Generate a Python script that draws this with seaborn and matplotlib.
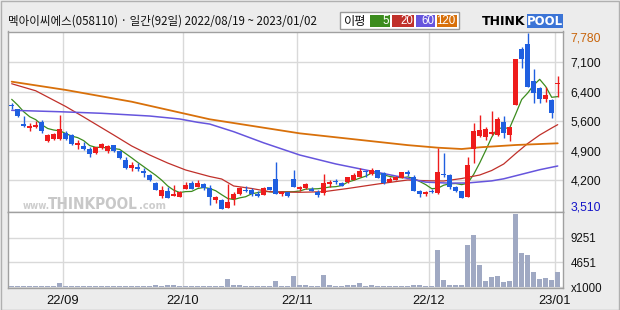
import numpy as np
import pandas as pd
import matplotlib
matplotlib.use("Agg")
import matplotlib.pyplot as plt
from matplotlib.patches import Rectangle
import seaborn as sns

# ---------------- data ----------------
title = "멕아이씨에스(058110) · 일간(92일) 2022/08/19 ~ 2023/01/02"
month_labels = ["22/09", "22/10", "22/11", "22/12", "23/01"]
month_start_idx = [9, 29, 48, 70, 91]

open_ = [6020, 5931, 5576, 5479, 5496, 5624, 5172, 5206, 5206, 5358,
         5303, 5075, 5044, 4964, 4867, 4988, 4915, 5061, 4915, 4705,
         4519, 4536, 4439, 4349, 4149, 3834, 3948, 3841, 3817, 4003,
         4156, 4052, 4124, 4020, 3745, 3730, 3551, 3754, 3883, 3987,
         3987, 3883, 3866, 4052, 4238, 3883, 3931, 4238, 4003, 4020,
         4011, 3931, 3899, 4117, 4204, 4141, 4180, 4221, 4301, 4446,
         4366, 4463, 4398, 4173, 4221, 4277, 4407, 4294, 3962, 3883,
         3938, 3914, 4374, 4342, 4059, 3955, 3817, 4964, 5286, 5261,
         5334, 5310, 5617, 5310, 6043, 7390, 7511, 6616, 6454, 6188,
         6156, 6540]
high = [6080, 5950, 5769, 5600, 5648, 5665, 5330, 5360, 5794, 5399,
        5330, 5189, 5148, 5027, 5030, 5123, 5060, 5070, 4930, 4770,
        4657, 4625, 4504, 4360, 4180, 4076, 4059, 4108, 3950, 4180,
        4190, 4214, 4140, 4100, 3830, 3769, 4132, 3938, 4052, 4083,
        4035, 3948, 4059, 4060, 4649, 3962, 3940, 4463, 4083, 4156,
        4059, 3979, 4366, 4214, 4238, 4166, 4301, 4398, 4511, 4450,
        4511, 4470, 4405, 4294, 4310, 4420, 4463, 4349, 3979, 3962,
        4000, 5003, 4882, 4366, 4070, 3960, 4785, 5593, 5794, 5511,
        5890, 5745, 5769, 5510, 7160, 7431, 7780, 6906, 6470, 6464,
        6170, 6737]
low = [5940, 5738, 5496, 5414, 5480, 5365, 5148, 5190, 5190, 5200,
       5080, 4964, 4947, 4770, 4850, 4970, 4867, 4900, 4730, 4490,
       4432, 4446, 4287, 4200, 3970, 3786, 3780, 3841, 3810, 4000,
       3996, 4040, 3972, 3624, 3672, 3510, 3540, 3624, 3870, 3924,
       3834, 3803, 3860, 3970, 3880, 3834, 3817, 4040, 3962, 3996,
       3950, 3817, 3858, 4059, 4124, 4070, 4141, 4210, 4290, 4301,
       4350, 4260, 4124, 4165, 4210, 4270, 4318, 3950, 3803, 3834,
       3907, 3875, 4300, 3996, 3940, 3780, 3810, 4640, 5261, 5189,
       5310, 5290, 5230, 5172, 6030, 6938, 6460, 6091, 6091, 6115,
       5714, 6236]
close = [6010, 5777, 5527, 5535, 5559, 5399, 5317, 5341, 5448, 5220,
         5099, 5123, 4978, 4850, 5012, 5092, 5044, 4915, 4746, 4504,
         4577, 4495, 4398, 4221, 3987, 3987, 3793, 3890, 3938, 4093,
         4011, 4141, 4020, 3817, 3817, 3530, 3689, 3890, 4020, 3955,
         3883, 3834, 4035, 3979, 3890, 3938, 3834, 4052, 4059, 4124,
         3955, 3858, 4141, 4180, 4166, 4083, 4286, 4349, 4446, 4407,
         4463, 4270, 4141, 4253, 4301, 4415, 4366, 3962, 3883, 3924,
         3924, 4407, 4340, 4052, 3955, 3793, 4584, 5407, 5431, 5467,
         5390, 5697, 5365, 5503, 7141, 7141, 6478, 6333, 6188, 6277,
         5835, 6560]
volume = [220, 220, 220, 220, 220, 220, 220, 220, 840, 220,
          220, 220, 220, 220, 220, 220, 220, 220, 220, 220,
          220, 220, 220, 220, 410, 220, 410, 410, 220, 220,
          220, 220, 220, 220, 220, 220, 1530, 410, 410, 220,
          220, 220, 220, 220, 1160, 220, 220, 2090, 410, 410,
          300, 220, 2280, 410, 220, 220, 410, 410, 840, 220,
          410, 220, 220, 220, 220, 220, 220, 410, 410, 220,
          220, 6960, 1350, 410, 410, 410, 7950, 9760, 4150, 1160,
          1960, 2090, 1030, 1220, 13690, 6450, 6080, 2900, 1530, 1780,
          1350, 2900]

ma5_head = [6173, 6035, 5873, 5752]
ma20_idx = [0, 4, 9, 12, 17, 20, 23, 26, 29, 33, 35, 37, 40, 43, 48, 52, 56,
            61, 66, 69, 72, 75, 78, 80, 82, 84, 86, 88, 90, 91]
ma20_val = [6550, 6380, 6000, 5745, 5310, 5044, 4826, 4632, 4463, 4306, 4245,
            4076, 4016, 3938, 3924, 3938, 4016, 4124, 4221, 4204, 4197, 4257,
            4342, 4451, 4608, 4862, 5104, 5310, 5479, 5560]
ma60_idx = [0, 8, 15, 23, 28, 31, 33, 37, 42, 48, 54, 59, 65, 69, 73, 76, 80,
            82, 85, 88, 91]
ma60_val = [5907, 5873, 5835, 5769, 5697, 5617, 5575, 5390, 5120, 4826, 4610,
            4463, 4290, 4170, 4145, 4150, 4200, 4250, 4360, 4470, 4560]
ma120_idx = [0, 9, 20, 33, 48, 66, 71, 75, 78, 84, 91]
ma120_val = [6600, 6400, 6115, 5690, 5350, 5065, 5003, 4971, 5012, 5068, 5109]

price_min, price_max = 3510, 7780
price_tick_labels = ["4,200", "4,900", "5,600", "6,400", "7,100"]
vol_ticks = [0, 4651, 9251]
vol_tick_labels = ["x1000", "4651", "9251"]
legend_title = "이평"
legend_labels = ["5", "20", "60", "120"]

# ---------------- style ----------------
sns.set_style("white")
plt.rcParams["font.family"] = ["Noto Sans CJK KR", "DejaVu Sans"]
NUM_FONT = ["Liberation Sans", "DejaVu Sans"]

UP = "#ee1c1c"
DOWN = "#1f5fe0"
MA_COLORS = ["#3c8c1e", "#c0302a", "#6655dd", "#d8700a"]
VOL_COLOR = "#a0a9c3"
GRID = "#d9d9d9"
SPINE = "#a0a0a0"

W, H = 620, 310
fig = plt.figure(figsize=(W / 100, H / 100), dpi=100, facecolor="#ececec")


def fx(px):
    return px / W


def fy(py):
    return 1 - py / H


x_left, x_right = 7.5, 563
ax = fig.add_axes([fx(x_left), fy(212), fx(x_right) - fx(x_left), (212 - 31.5) / H])
axv = fig.add_axes([fx(x_left), fy(288), fx(x_right) - fx(x_left), (288 - 212) / H])

n = len(close)
idx = np.arange(n)
df = pd.DataFrame({"i": idx, "open": open_, "high": high, "low": low,
                   "close": close, "volume": volume})
df["up"] = df["close"] >= df["open"]
df["color"] = np.where(df["up"], UP, DOWN)

# moving averages
ma5 = df["close"].rolling(5).mean().to_numpy()
ma5[:4] = ma5_head
lines = [
    (idx, ma5, MA_COLORS[0], 0.9),
    (np.array(ma20_idx), np.array(ma20_val), MA_COLORS[1], 0.9),
    (np.array(ma60_idx), np.array(ma60_val), MA_COLORS[2], 1.1),
    (np.array(ma120_idx), np.array(ma120_val), MA_COLORS[3], 1.3),
]
for xs, ys, c, lw in lines:
    sns.lineplot(x=xs, y=ys, ax=ax, color=c, linewidth=lw, zorder=2)

# candles
ax.vlines(df["i"], df["low"], df["high"], colors=df["color"], linewidth=1.0, zorder=3)
body_bottom = np.minimum(df["open"], df["close"])
body_h = np.maximum(np.abs(df["close"] - df["open"]), 28)
ax.bar(df["i"], body_h, bottom=body_bottom, width=0.8, color=df["color"],
       linewidth=0, zorder=4)

# volume
sns.barplot(data=df, x="i", y="volume", ax=axv, color=VOL_COLOR, saturation=1,
            width=0.8, linewidth=0, zorder=3)

# axes limits
xlim = ((x_left - 11.7) / 6, (x_right - 11.7) / 6)
ppx = (price_max - price_min) / (209.4 - 32.9)
ax.set_xlim(*xlim)
ax.set_ylim(price_min - (212 - 209.4) * ppx, price_max + (32.9 - 31.5) * ppx)
axv.set_xlim(*xlim)
axv.set_ylim(-155, 14057)

grid_x = [m - 0.5 for m in month_start_idx]
price_ticks = np.linspace(price_min, price_max, 7)[1:-1]

for a in (ax, axv):
    a.set_facecolor("white")
    a.set_xticks(grid_x)
    a.grid(True, color=GRID, linewidth=1.0, zorder=0)
    a.set_axisbelow(True)
    for s in a.spines.values():
        s.set_color(SPINE)
        s.set_linewidth(1.0)
    a.set_xlabel("")
    a.set_ylabel("")

ax.set_xticklabels([])
ax.tick_params(axis="x", length=0)
ax.yaxis.tick_right()
ax.set_yticks(price_ticks)
ax.set_yticklabels(price_tick_labels, family=NUM_FONT)
ax.tick_params(axis="y", length=0, pad=5.5, labelsize=8.8, colors="#111111")

axv.set_xticklabels(month_labels, family=NUM_FONT)
axv.tick_params(axis="x", length=0, pad=5, labelsize=9.3, colors="#111111")
axv.yaxis.tick_right()
axv.set_yticks(vol_ticks)
axv.set_yticklabels(vol_tick_labels, family=NUM_FONT)
axv.tick_params(axis="y", length=0, pad=5.5, labelsize=8.3, colors="#111111")

# extreme price labels
fig.text(fx(570.5), fy(38.3), f"{price_max:,}", color="#c8640a", fontsize=8.8,
         va="center", ha="left", family=NUM_FONT)
fig.text(fx(570.5), fy(207.3), f"{price_min:,}", color="#1414c8", fontsize=8.8,
         va="center", ha="left", family=NUM_FONT)

# watermark
fig.text(fx(22.7), fy(209), "www.", color="#cdcdcd", fontsize=7, va="baseline",
         ha="left", fontweight="bold", family=["DejaVu Sans"], fontstretch="condensed")
fig.text(fx(48.3), fy(209), "THINKPOOL", color="#c8c8c8", fontsize=11,
         va="baseline", ha="left", fontweight="bold", family=["DejaVu Sans"],
         fontstretch="condensed")
fig.text(fx(138.5), fy(209), ".com", color="#cdcdcd", fontsize=8, va="baseline",
         ha="left", fontweight="bold", family=["DejaVu Sans"], fontstretch="condensed")

# title
fig.text(fx(7.5), fy(21.5), title, fontsize=8.3, va="center", ha="left", color="#111111")

# MA legend
fig.patches.append(Rectangle((fx(340), fy(29.3)), fx(459) - fx(340), (29.3 - 12.3) / H,
                             transform=fig.transFigure, facecolor="white",
                             edgecolor="#9a9a9a", linewidth=1.0))
fig.text(fx(355.5), fy(21), legend_title, fontsize=8.8, va="center", ha="center", color="#111111")
boxes = [(370, 390), (391.7, 414.3), (416, 435), (436.7, 456.7)]
for (x0, x1), lab, c in zip(boxes, legend_labels, MA_COLORS):
    fig.patches.append(Rectangle((fx(x0), fy(26.7)), fx(x1) - fx(x0), (26.7 - 15) / H,
                                 transform=fig.transFigure, facecolor=c, edgecolor="none"))
    fig.text(fx(x1 - 0.8), fy(21), lab, fontsize=8.3, va="center", ha="right", color="white",
             family=NUM_FONT)

# ThinkPool logo
fig.patches.append(Rectangle((fx(526.7), fy(28.3)), fx(563.3) - fx(526.7), (28.3 - 14) / H,
                             transform=fig.transFigure, facecolor="#3b74d6", edgecolor="none"))
fig.text(fx(481.7), fy(21.5), "THINK", fontsize=9, fontweight="bold", va="center",
         ha="left", color="black", family=["DejaVu Sans"])
fig.text(fx(527.3), fy(21.5), "POOL", fontsize=8.5, fontweight="bold", va="center",
         ha="left", color="white", family=["DejaVu Sans"])

# outer frame
fig.patches.append(Rectangle((fx(0.5), fy(309.5)), fx(619) - fx(0.5), (309) / H,
                             transform=fig.transFigure, facecolor="none",
                             edgecolor="#b0b0b0", linewidth=1.0))

fig.savefig("out.png", dpi=100, facecolor=fig.get_facecolor())
